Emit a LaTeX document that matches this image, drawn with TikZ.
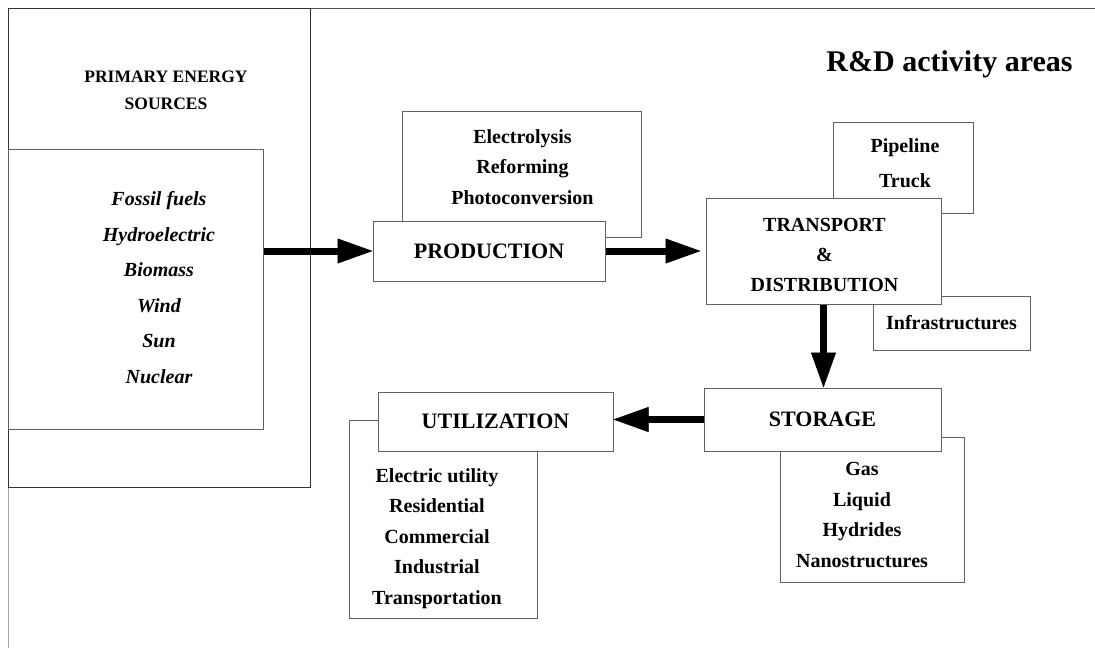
\documentclass[tikz,border=0pt]{standalone}
\usepackage{fontspec}
\setmainfont{Liberation Serif}
\usetikzlibrary{arrows.meta}
\begin{document}
\begin{tikzpicture}[x=1pt,y=-1pt,
  box/.style={draw=black!62, line width=1pt, fill=white, rectangle, inner sep=0pt, align=center},
  titlefont/.style={font=\fontsize{22}{26}\selectfont\bfseries},
  item/.style={align=center, inner sep=0pt, font=\fontsize{20}{30.6}\selectfont\bfseries},
  srcitem/.style={align=center, inner sep=0pt, font=\fontsize{20}{35.6}\selectfont\bfseries\itshape},
  ptitle/.style={align=center, inner sep=0pt, font=\fontsize{17.5}{27}\selectfont\bfseries},
  bigarrow/.style={line width=7pt, -{Triangle[length=35pt,width=25pt,line width=0.5pt]}}]
\path[use as bounding box] (0,0) rectangle (1095,648);
% frame
\coordinate (fbl) at (8,648);
\coordinate (ftl) at (8,8);
\coordinate (ftr) at (1095,8);
\draw[black!35, line width=1pt] (fbl) -- (ftl);
\draw[black!70, line width=1pt] (ftl) -- (ftr);
% primary energy sources
\node[box, draw=black!80, minimum width=302pt, minimum height=479pt] (primary) at (159,247.5) {};
\node[box, minimum width=255pt, minimum height=280pt] (inner) at (135.5,289) {};
\node[ptitle] (ptext) at (166,90) {PRIMARY ENERGY\\SOURCES};
\node[srcitem] (sources) at (159,287.5) {Fossil fuels\\Hydroelectric\\Biomass\\Wind\\Sun\\Nuclear};
% production
\node[box, minimum width=239pt, minimum height=126pt] (prodd) at (521.5,174) {};
\node[item] (prodlist) at (522.5,167) {Electrolysis\\Reforming\\Photoconversion};
\node[box, titlefont, minimum width=232pt, minimum height=60pt] (prod) at (489,251) {PRODUCTION};
% transport
\node[box, minimum width=140pt, minimum height=91pt] (piped) at (903,167.5) {};
\node[item, font=\fontsize{20}{35}\selectfont\bfseries] (pipelist) at (905,163) {Pipeline\\Truck};
\node[box, font=\fontsize{20}{24}\selectfont\bfseries, minimum width=157pt, minimum height=54pt] (infra) at (951.5,323) {Infrastructures};
\node[box, minimum width=235pt, minimum height=106pt] (trans) at (823.5,251) {};
\node[item, font=\fontsize{20}{30.4}\selectfont\bfseries] (translabel) at (824.5,255) {TRANSPORT\\\&\\DISTRIBUTION};
% storage
\node[box, minimum width=184pt, minimum height=145pt] (stord) at (872,509.5) {};
\node[item] (storlist) at (862,515) {Gas\\Liquid\\Hydrides\\Nanostructures};
\node[box, titlefont, minimum width=237pt, minimum height=63pt] (stor) at (822.5,419.5) {STORAGE};
% utilization
\node[box, minimum width=188pt, minimum height=198pt] (utild) at (443,519) {};
\node[item] (utillist) at (437,538.5) {Electric utility\\Residential\\Commercial\\Industrial\\Transportation};
\node[box, titlefont, minimum width=235pt, minimum height=59pt] (util) at (495.5,421.5) {UTILIZATION};
% title
\node[font=\fontsize{30}{36}\selectfont\bfseries, anchor=base, inner sep=0pt] (rd) at (949.5,71) {R\&D activity areas};
% arrows
\draw[bigarrow] (inner.east |- prod.west) -- (prod.west);
\draw[bigarrow, shorten >=5pt] (prod.east) -- (trans.west);
\draw[bigarrow] (trans.south) -- (trans.south |- stor.north);
\draw[bigarrow] (stor.west) -- (stor.west -| util.east);
\end{tikzpicture}
\end{document}
